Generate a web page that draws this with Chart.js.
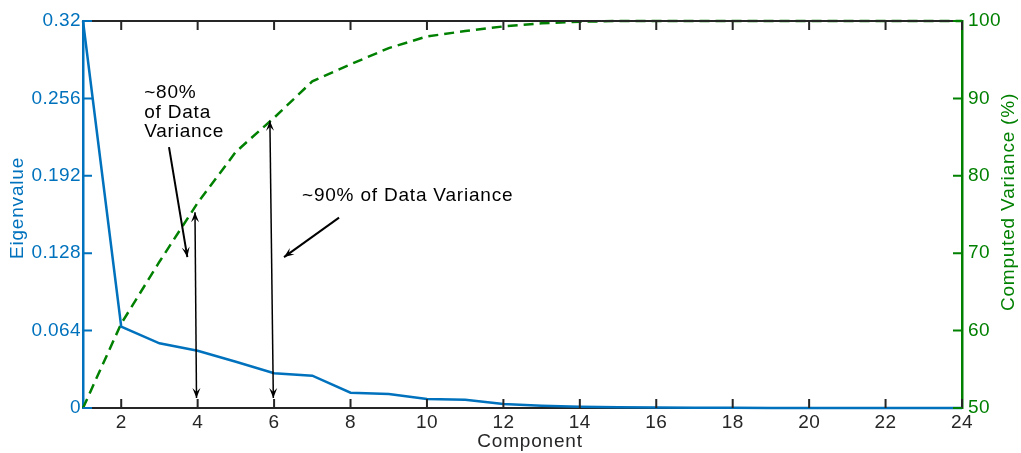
<!DOCTYPE html>
<html>
<head>
<meta charset="utf-8">
<script src="https://cdn.jsdelivr.net/npm/chart.js@4.4.0/dist/chart.umd.min.js"></script>
<style>
  body { margin: 0; background: #fff; }
</style>
</head>
<body>
<canvas id="pcaChart" width="1021" height="453"></canvas>
<script>
const components = [1, 2, 3, 4, 5, 6, 7, 8, 9, 10, 11, 12, 13, 14, 15, 16, 17, 18, 19, 20, 21, 22, 23, 24];
const eigenvalues = [0.32, 0.0672, 0.0535, 0.0474, 0.0383, 0.0287, 0.0267, 0.0127, 0.0116, 0.0074, 0.0069, 0.0033,
  0.0019, 0.001, 0.0006, 0.0004, 0.0003, 0.0002, 0.0001, 0.0001, 0.0001, 0, 0, 0];
const cumulativeVariance = [50, 60.9, 68.9, 76.5, 83.1, 87.5, 92.2, 94.4, 96.5, 98.0, 98.7, 99.3,
  99.7, 99.9, 100, 100, 100, 100, 100, 100, 100, 100, 100, 100];
const xTicks = [2, 4, 6, 8, 10, 12, 14, 16, 18, 20, 22, 24];
const eigenTicks = [0, 0.064, 0.128, 0.192, 0.256, 0.32];
const varianceTicks = [50, 60, 70, 80, 90, 100];

const note80 = ['~80%', 'of Data', 'Variance'];
const note90 = '~90% of Data Variance';

const blue = '#0072BD';
const green = '#008000';
const axisGray = '#262626';
const fontFamily = '"Liberation Sans", Arial, Helvetica, sans-serif';

// annotation geometry, in data units (component, variance %)
const arrows = [
  { from: [3.25, 83.7], to: [3.73, 69.5], both: false, width: 2 },
  { from: [3.97, 51.3], to: [3.93, 75.3], both: true, width: 1.5 },
  { from: [5.98, 51.3], to: [5.89, 87.1], both: true, width: 1.5 },
  { from: [7.7, 74.6], to: [6.26, 69.5], both: false, width: 2 }
];

function arrowHead(ctx, x0, y0, x1, y1) {
  const ang = Math.atan2(y1 - y0, x1 - x0);
  const len = 10, half = 4;
  ctx.save();
  ctx.translate(x1, y1);
  ctx.rotate(ang);
  ctx.beginPath();
  ctx.moveTo(0, 0);
  ctx.lineTo(-len, -half);
  ctx.lineTo(-len * 0.6, 0);
  ctx.lineTo(-len, half);
  ctx.closePath();
  ctx.fill();
  ctx.restore();
}

function vText(ctx, text, cx, cy) {
  ctx.save();
  ctx.translate(cx, cy);
  ctx.rotate(-Math.PI / 2);
  ctx.fillText(text, 0, 0);
  ctx.restore();
}

const decorations = {
  id: 'decorations',
  beforeDraw(chart) {
    // reference text runs a little wider than Liberation Sans
    chart.ctx.letterSpacing = '0.4px';
  },
  afterDraw(chart) {
    const { ctx, chartArea: a, scales } = chart;
    const x = scales.x, y = scales.y, y2 = scales.y2;
    const tick = 9;
    ctx.save();
    ctx.lineCap = 'butt';

    // top frame line
    ctx.strokeStyle = axisGray;
    ctx.lineWidth = 2;
    ctx.beginPath();
    ctx.moveTo(a.left, a.top);
    ctx.lineTo(a.right, a.top);
    ctx.stroke();

    // inward x ticks, bottom and top
    ctx.beginPath();
    xTicks.forEach(v => {
      const px = x.getPixelForValue(v);
      ctx.moveTo(px, a.bottom);
      ctx.lineTo(px, a.bottom - tick);
      ctx.moveTo(px, a.top);
      ctx.lineTo(px, a.top + tick);
    });
    ctx.stroke();

    // inward left ticks
    ctx.strokeStyle = blue;
    ctx.beginPath();
    eigenTicks.forEach(v => {
      const py = y.getPixelForValue(v);
      ctx.moveTo(a.left, py);
      ctx.lineTo(a.left + tick, py);
    });
    ctx.stroke();

    // inward right ticks
    ctx.strokeStyle = green;
    ctx.beginPath();
    varianceTicks.forEach(v => {
      const py = y2.getPixelForValue(v);
      ctx.moveTo(a.right, py);
      ctx.lineTo(a.right - tick, py);
    });
    ctx.stroke();

    // axis titles
    ctx.font = '19px ' + fontFamily;
    ctx.letterSpacing = '0.8px';
    ctx.textAlign = 'center';
    ctx.textBaseline = 'middle';
    ctx.fillStyle = blue;
    vText(ctx, 'Eigenvalue', 17.5, 208);
    ctx.fillStyle = green;
    vText(ctx, 'Computed Variance (%)', 1009, 202);
    ctx.fillStyle = axisGray;
    ctx.fillText('Component', 530, 442);

    // annotations
    ctx.fillStyle = '#000';
    ctx.strokeStyle = '#000';
    ctx.textAlign = 'left';
    const tx = x.getPixelForValue(2.6);
    note80.forEach((line, i) => {
      ctx.fillText(line, tx, y2.getPixelForValue(90.7) + i * 19.3);
    });
    ctx.fillText(note90, x.getPixelForValue(6.73), y2.getPixelForValue(77.4));

    arrows.forEach(ar => {
      const x0 = x.getPixelForValue(ar.from[0]), y0 = y2.getPixelForValue(ar.from[1]);
      const x1 = x.getPixelForValue(ar.to[0]), y1 = y2.getPixelForValue(ar.to[1]);
      ctx.lineWidth = ar.width;
      ctx.beginPath();
      ctx.moveTo(x0, y0);
      ctx.lineTo(x1, y1);
      ctx.stroke();
      arrowHead(ctx, x0, y0, x1, y1);
      if (ar.both) arrowHead(ctx, x1, y1, x0, y0);
    });
    ctx.restore();
  }
};

const ctx = document.getElementById('pcaChart').getContext('2d');
new Chart(ctx, {
  type: 'line',
  data: {
    datasets: [
      {
        label: 'Eigenvalue',
        data: components.map((c, i) => ({ x: c, y: eigenvalues[i] })),
        yAxisID: 'y',
        borderColor: blue,
        borderWidth: 2.5,
        pointRadius: 0,
        tension: 0,
        clip: 4
      },
      {
        label: 'Computed Variance (%)',
        data: components.map((c, i) => ({ x: c, y: cumulativeVariance[i] })),
        yAxisID: 'y2',
        borderColor: green,
        borderWidth: 2.5,
        borderDash: [10, 6],
        pointRadius: 0,
        tension: 0,
        clip: 4
      }
    ]
  },
  options: {
    responsive: false,
    devicePixelRatio: 1,
    animation: false,
    layout: { padding: { top: 21, left: 0, right: 0, bottom: 0 } },
    plugins: {
      legend: { display: false },
      tooltip: { enabled: false }
    },
    scales: {
      x: {
        type: 'linear',
        min: 1,
        max: 24,
        afterBuildTicks: s => { s.ticks = xTicks.map(v => ({ value: v })); },
        afterFit: s => { s.height = 45; },
        grid: { display: false, drawTicks: false },
        border: { color: axisGray, width: 2 },
        ticks: { color: axisGray, padding: 3, font: { size: 19, family: fontFamily }, maxRotation: 0 }
      },
      y: {
        position: 'left',
        min: 0,
        max: 0.32,
        afterBuildTicks: s => { s.ticks = eigenTicks.map(v => ({ value: v })); },
        afterFit: s => { s.width = 83; },
        grid: { display: false, drawTicks: false },
        border: { color: blue, width: 2.5 },
        ticks: { color: blue, padding: 2, font: { size: 19, family: fontFamily }, callback: v => String(v) }
      },
      y2: {
        position: 'right',
        min: 50,
        max: 100,
        afterBuildTicks: s => { s.ticks = varianceTicks.map(v => ({ value: v })); },
        afterFit: s => { s.width = 59; },
        grid: { display: false, drawTicks: false },
        border: { color: green, width: 2.5 },
        ticks: { color: green, padding: 6, font: { size: 19, family: fontFamily } }
      }
    }
  },
  plugins: [decorations]
});
</script>
</body>
</html>
